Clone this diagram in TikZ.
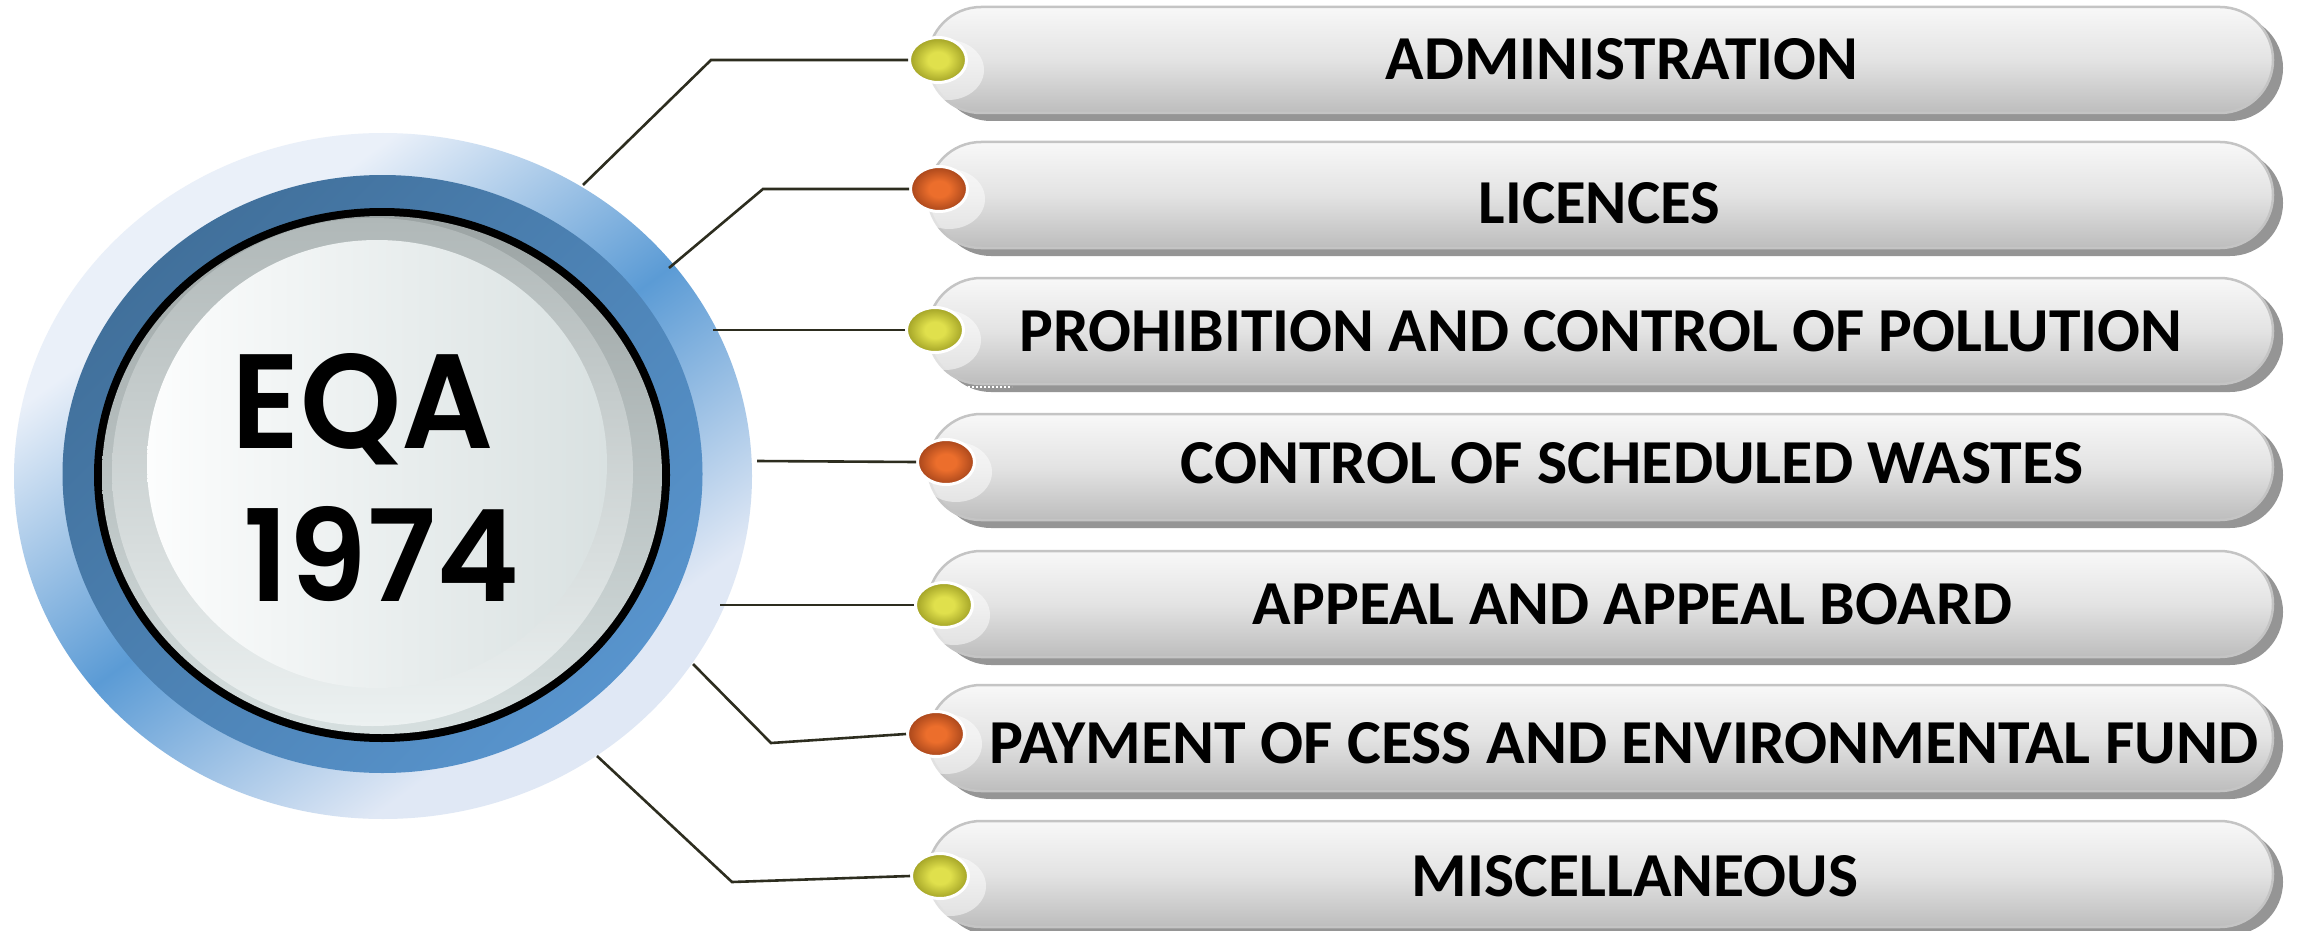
\documentclass[tikz,border=0pt]{standalone}
\usepackage{fontspec}
\usepackage{graphicx}
\newfontfamily\eqafont{Poppins}[UprightFont=* SemiBold]
\newfontfamily\lblfont{Carlito}
\usetikzlibrary{shapes.geometric}
\definecolor{ringL}{HTML}{EAF0F9}
\definecolor{ringB}{HTML}{5B9BD5}
\definecolor{ringL2}{HTML}{E0E8F5}
\definecolor{darkA}{HTML}{41709B}
\definecolor{darkB}{HTML}{5894CD}
\definecolor{greyA}{HTML}{9CA4A4}
\definecolor{greyB}{HTML}{D6DFDF}
\definecolor{grey2A}{HTML}{B0B8B8}
\definecolor{grey2B}{HTML}{ECF1F1}
\definecolor{diskL}{HTML}{FCFDFD}
\definecolor{diskR}{HTML}{D9E1E1}
\definecolor{barTop}{HTML}{F8F8F8}
\definecolor{barMid}{HTML}{E3E3E3}
\definecolor{barBot}{HTML}{BDBDBD}
\definecolor{barEdge}{HTML}{C4C4C4}
\definecolor{barShadow}{HTML}{959595}
\definecolor{connCol}{HTML}{2D2D1F}
\definecolor{yelIn}{HTML}{E0E04C}
\definecolor{yelOut}{HTML}{A2A226}
\definecolor{orgIn}{HTML}{EC6E2C}
\definecolor{orgOut}{HTML}{A8461B}
\pgfdeclarehorizontalshading{ringshade}{100bp}{color(0bp)=(ringL); color(31bp)=(ringL); color(50bp)=(ringB); color(69bp)=(ringL2); color(100bp)=(ringL2)}
\pgfdeclareradialshading{dotshadeY}{\pgfpoint{0bp}{0bp}}{color(0bp)=(yelIn); color(9bp)=(yelIn); color(25bp)=(yelOut); color(50bp)=(yelOut)}
\pgfdeclareradialshading{dotshadeO}{\pgfpoint{0bp}{0bp}}{color(0bp)=(orgIn); color(9bp)=(orgIn); color(25bp)=(orgOut); color(50bp)=(orgOut)}
\begin{document}
\begin{tikzpicture}[x=1pt,y=-1pt,
  conn/.style={draw=connCol, line width=2.6pt},
  dotbase/.style={ellipse, minimum width=57pt, minimum height=45pt, inner sep=0pt, draw=white, line width=3pt},
  dotY/.style={dotbase, shade, shading=dotshadeY},
  dotO/.style={dotbase, shade, shading=dotshadeO},
  lbl/.style={anchor=base, inner sep=0pt, font=\lblfont\bfseries},
  bigtxt/.style={anchor=base, inner sep=0pt, font=\eqafont},
  barbody/.style={draw=barEdge, line width=2.5pt, rounded corners=53pt, top color=barTop, bottom color=barBot, middle color=barMid},
  barshade/.style={fill=barShadow, rounded corners=53pt},
  halo/.style={fill=white, opacity=0.5}
]
\useasboundingbox (0,0) rectangle (2297,931);
\fill[white] (0,0) rectangle (2297,931);

% central medallion
\shade[shading=ringshade, shading angle=-54] (383,476) ellipse [x radius=369pt, y radius=343pt];
\shade[top color=darkA, bottom color=darkB, shading angle=45] (382.5,474) ellipse [x radius=320pt, y radius=299pt];
\fill[black] (382,475) ellipse [x radius=288pt, y radius=267pt];
\shade[top color=greyA, bottom color=greyB] (382,475) ellipse [x radius=280pt, y radius=259pt];
\shade[top color=grey2A, bottom color=grey2B] (372.5,472) ellipse [x radius=260.5pt, y radius=254pt];
\shade[left color=diskL, right color=diskR] (377,464) ellipse [x radius=230pt, y radius=224pt];
\node[bigtxt] (eqa) at (363,448) {\resizebox{262pt}{95pt}{EQA}};
\node[bigtxt] (yr) at (381.5,601) {\resizebox{276pt}{95pt}{1974}};

% bars
\foreach \t in {7,142,278,414,551,685,821}{
  \fill[barshade] (938,\t+8) rectangle (2283,\t+114);
  \shade[barbody] (928,\t) rectangle (2273,\t+106);
}
\draw[white, line width=1.6pt, dash pattern=on 1.6pt off 2.4pt] (960,387) -- (1012,387);

% labels
\node[lbl] (l1) at (1622,80) {\resizebox{472pt}{41pt}{ADMINISTRATION}};
\node[lbl] (l2) at (1599.5,223) {\resizebox{241pt}{41pt}{LICENCES}};
\node[lbl] (l3) at (1601,351) {\resizebox{1162pt}{41pt}{PROHIBITION AND CONTROL OF POLLUTION}};
\node[lbl] (l4) at (1632,483) {\resizebox{902pt}{41pt}{CONTROL OF SCHEDULED WASTES}};
\node[lbl] (l5) at (1632.5,624) {\resizebox{759pt}{41pt}{APPEAL AND APPEAL BOARD}};
\node[lbl] (l6) at (1624,763) {\resizebox{1268pt}{41pt}{PAYMENT OF CESS AND ENVIRONMENTAL FUND}};
\node[lbl] (l7) at (1635,896) {\resizebox{446pt}{41pt}{MISCELLANEOUS}};

% connector points on the ring
\coordinate (s1) at (583,185);
\coordinate (k1) at (711,60);
\coordinate (s2) at (669,268);
\coordinate (k2) at (763,189);
\coordinate (s3) at (713,330);
\coordinate (s4) at (757,461);
\coordinate (s5) at (720,605);
\coordinate (s6) at (693,664);
\coordinate (k6) at (771,743);
\coordinate (s7) at (597,756);
\coordinate (k7) at (732,882);

% halos behind dots
\foreach \x/\y in {938/60,939/189,935/330,946/462,944/605,936/734,940/876}{
  \fill[halo] (\x+10,\y+10) ellipse [x radius=36pt, y radius=30pt];
}

% dots
\node[dotY] (d1) at (938,60) {};
\node[dotO] (d2) at (939,189) {};
\node[dotY] (d3) at (935,330) {};
\node[dotO] (d4) at (946,462) {};
\node[dotY] (d5) at (944,605) {};
\node[dotO] (d6) at (936,734) {};
\node[dotY] (d7) at (940,876) {};

% connectors
\draw[conn] (s1) -- (k1) -- (d1.west);
\draw[conn] (s2) -- (k2) -- (d2.west);
\draw[conn] (s3) -- (d3.west);
\draw[conn] (s4) -- (d4.west);
\draw[conn] (s5) -- (d5.west);
\draw[conn] (s6) -- (k6) -- (d6.west);
\draw[conn] (s7) -- (k7) -- (d7.west);
\end{tikzpicture}
\end{document}
